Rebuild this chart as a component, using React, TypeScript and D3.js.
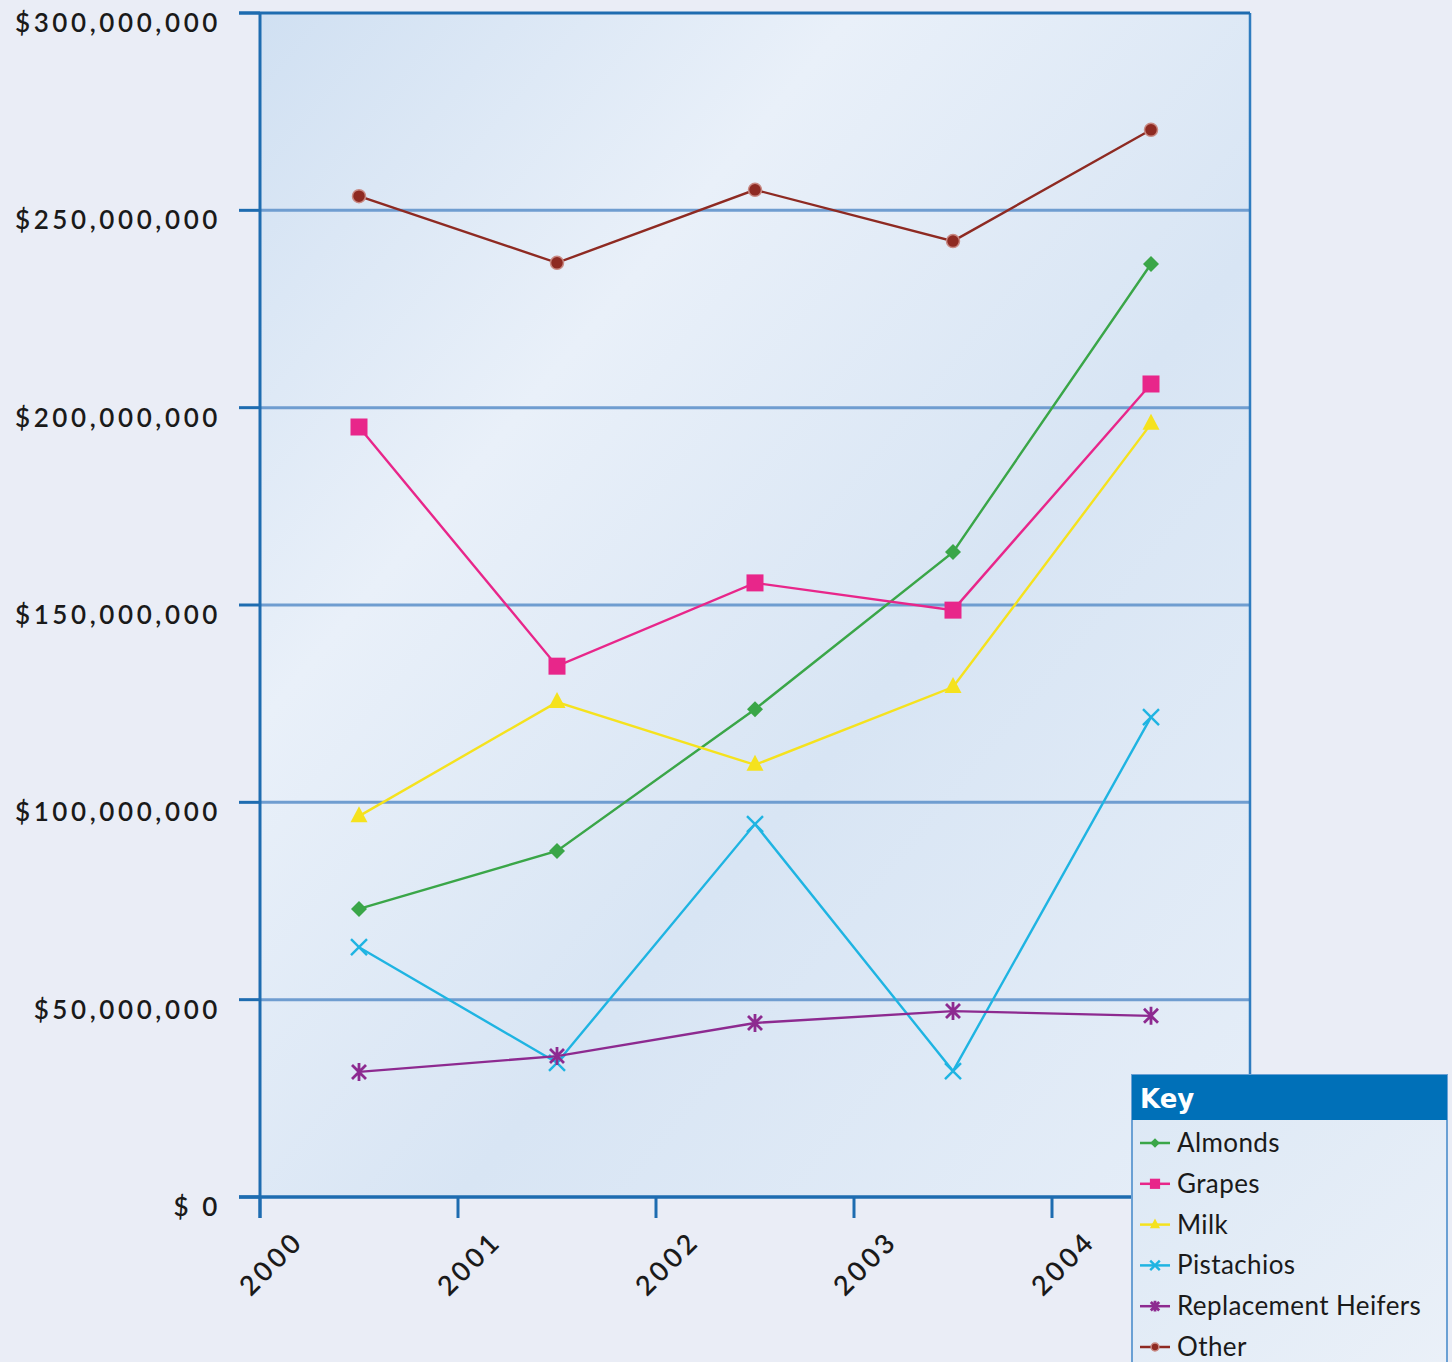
import React from "react";
import * as d3 from "d3";

const years = ["2000", "2001", "2002", "2003", "2004"];
const yTicks = [0, 50e6, 100e6, 150e6, 200e6, 250e6, 300e6];
const almonds = [73.0e6, 87.7e6, 123.6e6, 163.4e6, 236.4e6];
const grapes = [195.1e6, 134.5e6, 155.6e6, 148.7e6, 206.0e6];
const milk = [96.5e6, 125.4e6, 109.5e6, 129.2e6, 195.9e6];
const pistachios = [63.3e6, 34.0e6, 94.5e6, 31.9e6, 121.6e6];
const heifers = [31.7e6, 35.7e6, 44.1e6, 47.1e6, 45.9e6];
const other = [253.6e6, 236.7e6, 255.2e6, 242.2e6, 270.4e6];

const seriesNames = ["Almonds", "Grapes", "Milk", "Pistachios", "Replacement Heifers", "Other"];
const seriesColors = ["#3aa648", "#e8268a", "#f5e21e", "#1fb4e2", "#8d2a90", "#8e2a22"];
const seriesShapes = ["diamond", "square", "triangle", "x", "asterisk", "circle"];
const seriesData = [almonds, grapes, milk, pistachios, heifers, other];

const W = 1452, H = 1362;
const L = 260, R = 1250, T = 13, B = 1197;
const FONT = "Lato, 'Open Sans', sans-serif";

function Marker({ shape, color, x, y, s = 1 }: any) {
  const k = s;
  switch (shape) {
    case "diamond":
      return <path d={`M${x},${y - 8 * k}L${x + 8 * k},${y}L${x},${y + 8 * k}L${x - 8 * k},${y}Z`} fill={color} />;
    case "square":
      return <rect x={x - 8.5 * k} y={y - 8.5 * k} width={17 * k} height={17 * k} fill={color} />;
    case "triangle":
      return <path d={`M${x},${y - 10 * k}L${x + 8.5 * k},${y + 6 * k}L${x - 8.5 * k},${y + 6 * k}Z`} fill={color} />;
    case "x":
      return (
        <path d={`M${x - 8 * k},${y - 8 * k}L${x + 8 * k},${y + 8 * k}M${x + 8 * k},${y - 8 * k}L${x - 8 * k},${y + 8 * k}`} stroke={color} strokeWidth={2.4} />
      );
    case "asterisk":
      return (
        <path
          d={`M${x - 7 * k},${y - 7 * k}L${x + 7 * k},${y + 7 * k}M${x + 7 * k},${y - 7 * k}L${x - 7 * k},${y + 7 * k}M${x},${y - 9 * k}L${x},${y + 9 * k}`}
          stroke={color}
          strokeWidth={2.8}
        />
      );
    case "circle":
      return <circle cx={x} cy={y} r={6.5 * k} fill={color} stroke="#c98a84" strokeWidth={1.5} />;
  }
  return null;
}

export default function App() {
  const x = d3.scaleBand().domain(years).range([L, R]);
  const y = d3.scaleLinear().domain([0, 300e6]).range([B, T]);
  const fmt = (v: number) => "$" + (v === 0 ? " 0" : d3.format(",")(v));
  const line = d3
    .line<number>()
    .x((_, i) => (x(years[i]) as number) + x.bandwidth() / 2)
    .y((d) => y(d));

  const legX = 1132, legY = 1075, legW = 315, headH = 45, rowH = 40.8;

  return (
    <svg width={W} height={H} style={{ position: "absolute", left: 0, top: 0, background: "#eaedf6" }} fontFamily={FONT}>
      <defs>
        <linearGradient id="plotbg" x1="0" y1="0" x2="1" y2="1">
          <stop offset="0" stopColor="#d0e0f2" />
          <stop offset="0.3" stopColor="#e9f0f9" />
          <stop offset="0.6" stopColor="#d8e5f4" />
          <stop offset="1" stopColor="#e6eef8" />
        </linearGradient>
        <linearGradient id="legbg" x1="0" y1="0" x2="1" y2="1">
          <stop offset="0" stopColor="#dce8f5" />
          <stop offset="1" stopColor="#eaf0f8" />
        </linearGradient>
      </defs>
      <rect x={0} y={0} width={W} height={H} fill="#eaedf6" />
      <rect x={L} y={T} width={R - L} height={B - T} fill="url(#plotbg)" />
      {yTicks.slice(1, -1).map((t) => (
        <line key={t} x1={L} x2={R} y1={y(t)} y2={y(t)} stroke="#6f9dd0" strokeWidth={3} />
      ))}
      <line x1={R} x2={R} y1={T} y2={B} stroke="#2f7cbf" strokeWidth={2.5} />
      {yTicks.map((t) => (
        <g key={t}>
          <line x1={239} x2={L} y1={y(t)} y2={y(t)} stroke="#1e6cb0" strokeWidth={3} />
          <text x={221} y={y(t) + 19} textAnchor="end" fontSize={26} fill="#1a1a1a" letterSpacing={3.6} fontWeight={600}>
            {fmt(t)}
          </text>
        </g>
      ))}
      <line x1={239} x2={R} y1={T} y2={T} stroke="#1e6cb0" strokeWidth={3} />
      <line x1={L} x2={L} y1={T} y2={B + 21} stroke="#1e6cb0" strokeWidth={3} />
      <line x1={239} x2={R} y1={B} y2={B} stroke="#1e6cb0" strokeWidth={3.5} />
      {years.map((yr) => {
        const xx = x(yr) as number;
        return (
          <g key={yr}>
            <line x1={xx} x2={xx} y1={B} y2={B + 21} stroke="#1e6cb0" strokeWidth={3} />
            <text
              transform={`translate(${xx + 45},${B + 46}) rotate(-45)`}
              textAnchor="end"
              fontSize={27}
              fill="#1a1a1a"
              letterSpacing={3.5}
              fontWeight={600}
            >
              {yr}
            </text>
          </g>
        );
      })}
      {seriesData.map((data, si) => (
        <g key={si}>
          <path d={line(data) as string} fill="none" stroke={seriesColors[si]} strokeWidth={2.4} />
          {data.map((v, i) => (
            <Marker key={i} shape={seriesShapes[si]} color={seriesColors[si]} x={(x(years[i]) as number) + x.bandwidth() / 2} y={y(v)} />
          ))}
        </g>
      ))}
      <rect x={legX} y={legY} width={legW} height={H - legY + 5} fill="url(#legbg)" stroke="#6aa0d4" strokeWidth={2} />
      <rect x={legX} y={legY} width={legW} height={headH} fill="#0070b8" />
      <text x={legX + 8} y={legY + 33} fill="#ffffff" fontSize={26} fontWeight={900} fontFamily="'DejaVu Sans', sans-serif">
        Key
      </text>
      {seriesNames.map((n, i) => {
        const cy = legY + headH + 23 + i * rowH;
        return (
          <g key={n}>
            <line x1={legX + 8} x2={legX + 38} y1={cy} y2={cy} stroke={seriesColors[i]} strokeWidth={2.5} />
            <Marker shape={seriesShapes[i]} color={seriesColors[i]} x={legX + 23} y={cy} s={0.6} />
            <text x={legX + 45} y={cy + 9} fontSize={26} fill="#1a1a1a" letterSpacing={0.4}>
              {n}
            </text>
          </g>
        );
      })}
    </svg>
  );
}
